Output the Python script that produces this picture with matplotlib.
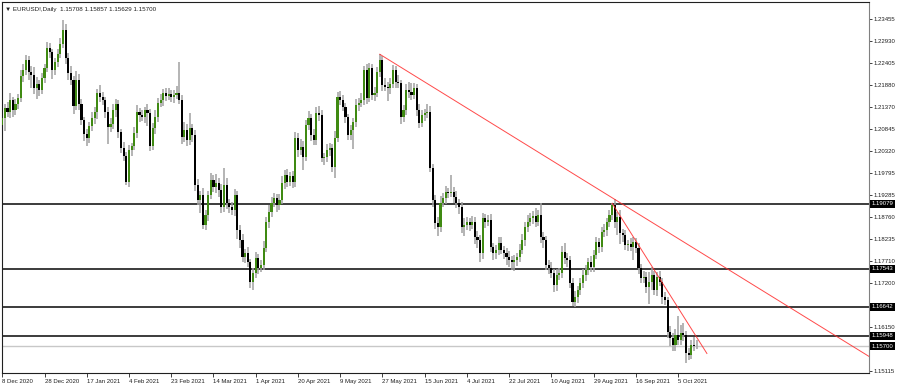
import matplotlib
matplotlib.use('Agg')
import matplotlib.pyplot as plt
import numpy as np

plt.rcParams['font.family'] = ['Liberation Sans', 'DejaVu Sans']

# --- data ---------------------------------------------------------------
symbol = 'EURUSD!,Daily'

# daily closes, one per bar (8 Dec 2020 .. 13 Oct 2021)
closes = [
    1.2110, 1.2134, 1.2125, 1.2153, 1.2129, 1.2144, 1.2158, 1.2210, 1.2224, 1.2248, 1.2219, 1.2212, 1.2181, 1.2191, 1.2177, 1.2205,
    1.2229, 1.2276, 1.2267, 1.2224, 1.2243, 1.2262, 1.2286, 1.2319, 1.2253, 1.2217, 1.2200, 1.2139, 1.2200, 1.2144, 1.2106, 1.2072,
    1.2063, 1.2091, 1.2110, 1.2125, 1.2170, 1.2160, 1.2153, 1.2125, 1.2089, 1.2096, 1.2129, 1.2144, 1.2077, 1.2039, 1.2020, 1.1959,
    1.2035, 1.2044, 1.2075, 1.2125, 1.2117, 1.2113, 1.2129, 1.2122, 1.2044, 1.2087, 1.2113, 1.2146, 1.2153, 1.2170, 1.2163, 1.2168,
    1.2160, 1.2165, 1.2170, 1.2153, 1.2065, 1.2082, 1.2058, 1.2087, 1.2070, 1.1952, 1.1916, 1.1928, 1.1857, 1.1880, 1.1928, 1.1963,
    1.1947, 1.1956, 1.1940, 1.1899, 1.1952, 1.1909, 1.1899, 1.1892, 1.1928, 1.1845, 1.1821, 1.1781, 1.1790, 1.1769, 1.1722, 1.1743,
    1.1779, 1.1755, 1.1762, 1.1802, 1.1864, 1.1888, 1.1909, 1.1921, 1.1904, 1.1916, 1.1956, 1.1975, 1.1959, 1.1973, 1.1959, 1.2063,
    1.2035, 1.2042, 1.2018, 1.2094, 1.2110, 1.2070, 1.2058, 1.2122, 1.2117, 1.2016, 1.2018, 1.2035, 1.2039, 1.1994, 1.2063, 1.2160,
    1.2153, 1.2137, 1.2113, 1.2070, 1.2082, 1.2101, 1.2141, 1.2146, 1.2153, 1.2224, 1.2158, 1.2229, 1.2165, 1.2170, 1.2219, 1.2248,
    1.2189, 1.2184, 1.2181, 1.2191, 1.2224, 1.2196, 1.2193, 1.2113, 1.2129, 1.2177, 1.2172, 1.2165, 1.2181, 1.2129, 1.2099, 1.2117,
    1.2122, 1.2125, 1.1992, 1.1916, 1.1862, 1.1852, 1.1909, 1.1921, 1.1935, 1.1933, 1.1935, 1.1923, 1.1909, 1.1899, 1.1852, 1.1857,
    1.1864, 1.1857, 1.1864, 1.1828, 1.1821, 1.1790, 1.1873, 1.1864, 1.1869, 1.1805, 1.1790, 1.1798, 1.1814, 1.1798, 1.1790, 1.1781,
    1.1774, 1.1769, 1.1774, 1.1781, 1.1798, 1.1821, 1.1852, 1.1864, 1.1873, 1.1878, 1.1864, 1.1880, 1.1828, 1.1821, 1.1762, 1.1755,
    1.1743, 1.1715, 1.1738, 1.1743, 1.1793, 1.1779, 1.1774, 1.1719, 1.1674, 1.1686, 1.1703, 1.1719, 1.1738, 1.1750, 1.1769, 1.1757,
    1.1786, 1.1816, 1.1805, 1.1840, 1.1845, 1.1864, 1.1880, 1.1904, 1.1864, 1.1876, 1.1838, 1.1833, 1.1809, 1.1812, 1.1805, 1.1816,
    1.1802, 1.1755, 1.1731, 1.1734, 1.1710, 1.1722, 1.1738, 1.1703, 1.1734, 1.1722, 1.1686, 1.1679, 1.1603, 1.1589, 1.1572, 1.1596,
    1.1584, 1.1601, 1.1596, 1.1553, 1.1549, 1.1572, 1.15708, 1.15700,
]
first_open = 1.2095

# wick lengths above / below the body, in pips
upper_pips = [
    12, 10, 14, 18, 8, 12, 10, 14, 16, 12, 10, 15, 20, 18, 9, 12,
    10, 14, 12, 8, 10, 12, 15, 24, 14, 12, 18, 10, 22, 15, 12, 8,
    14, 10, 16, 12, 10, 18, 12, 8, 12, 14, 16, 12, 10, 8, 14, 10,
    12, 8, 14, 16, 10, 12, 9, 14, 10, 12, 18, 12, 15, 10, 12, 14,
    10, 12, 16, 73, 12, 20, 14, 35, 10, 12, 14, 10, 16, 12, 10, 18,
    14, 22, 12, 14, 40, 16, 10, 12, 14, 10, 12, 14, 10, 15, 8, 12,
    14, 10, 12, 18, 12, 16, 14, 12, 10, 15, 18, 12, 14, 10, 12, 14,
    12, 20, 14, 12, 18, 10, 16, 14, 18, 12, 10, 14, 12, 10, 16, 12,
    16, 12, 10, 8, 12, 10, 14, 12, 18, 10, 14, 12, 10, 14, 12, 14,
    10, 16, 12, 14, 12, 10, 18, 8, 12, 14, 20, 22, 12, 10, 14, 12,
    10, 18, 14, 10, 12, 14, 16, 12, 14, 10, 40, 12, 14, 10, 12, 16,
    12, 10, 14, 12, 16, 12, 14, 10, 12, 14, 10, 12, 16, 14, 10, 12,
    14, 10, 12, 10, 14, 16, 12, 18, 14, 12, 20, 14, 30, 12, 10, 12,
    14, 10, 16, 12, 14, 22, 12, 10, 12, 14, 10, 12, 14, 12, 10, 14,
    12, 14, 10, 12, 14, 10, 12, 5, 14, 12, 16, 10, 12, 10, 14, 12,
    10, 12, 10, 14, 12, 25, 20, 10, 12, 14, 10, 12, 8, 14, 12, 16,
    45, 20, 25, 10, 12, 14, 20, 14.9,
]
lower_pips = [
    10, 30, 12, 14, 16, 10, 12, 8, 14, 10, 18, 30, 12, 25, 14, 10,
    12, 8, 14, 20, 10, 12, 8, 10, 14, 16, 12, 18, 10, 14, 12, 16,
    18, 12, 10, 14, 16, 10, 12, 14, 40, 12, 10, 16, 14, 12, 10, 7,
    12, 14, 10, 12, 16, 10, 14, 30, 12, 10, 14, 12, 10, 14, 12, 10,
    12, 14, 10, 8, 16, 12, 14, 10, 16, 14, 12, 30, 10, 12, 14, 10,
    12, 14, 16, 12, 10, 14, 12, 10, 14, 20, 18, 12, 14, 10, 14, 19,
    12, 14, 10, 12, 8, 14, 12, 10, 16, 12, 10, 14, 12, 10, 14, 12,
    16, 12, 30, 10, 12, 14, 10, 12, 14, 10, 16, 12, 14, 12, 25, 10,
    12, 10, 14, 12, 10, 45, 12, 14, 10, 12, 14, 10, 12, 14, 10, 12,
    14, 10, 30, 12, 10, 14, 12, 16, 12, 10, 14, 12, 10, 14, 12, 10,
    14, 12, 10, 16, 14, 20, 12, 10, 14, 12, 10, 14, 12, 16, 14, 20,
    12, 14, 10, 16, 18, 20, 12, 14, 10, 12, 16, 14, 12, 10, 14, 18,
    16, 18, 20, 14, 12, 10, 14, 12, 10, 14, 12, 10, 14, 18, 12, 14,
    12, 16, 14, 10, 12, 14, 16, 12, 9, 10, 14, 12, 10, 14, 12, 10,
    12, 10, 14, 12, 10, 14, 12, 10, 14, 30, 25, 16, 12, 14, 10, 30,
    12, 14, 10, 12, 14, 40, 18, 12, 14, 10, 16, 12, 14, 18, 12, 14,
    12, 10, 14, 23, 12, 10, 12, 7.1,
]

date_ticks = [0, 16, 32, 48, 64, 80, 96, 112, 128, 144, 160, 176, 192, 208, 224, 240, 256]
date_labels = ['8 Dec 2020', '28 Dec 2020', '17 Jan 2021', '4 Feb 2021', '23 Feb 2021',
               '14 Mar 2021', '1 Apr 2021', '20 Apr 2021', '9 May 2021', '27 May 2021',
               '15 Jun 2021', '4 Jul 2021', '22 Jul 2021', '10 Aug 2021', '29 Aug 2021',
               '16 Sep 2021', '5 Oct 2021']

price_ticks = [1.23455, 1.22930, 1.22405, 1.21880, 1.21370, 1.20845, 1.20320, 1.19795,
               1.19285, 1.18760, 1.18235, 1.17710, 1.17200, 1.16150, 1.15115]

levels = [1.19079, 1.17543, 1.16642, 1.15948]
bid = 1.15700

# trend lines: (bar, price) anchors
trend1 = [(143, 1.2262), (328.3, 1.1546)]
trend2 = [(231, 1.1909), (266.9, 1.1553)]

# --- build candles --------------------------------------------------------
c = np.array(closes)
o = np.concatenate([[first_open], c[:-1]])
hi = np.maximum(o, c) + np.array(upper_pips) / 10000
lo = np.minimum(o, c) - np.array(lower_pips) / 10000
x = np.arange(len(c))

fig = plt.figure(figsize=(9, 3.86), dpi=100)
ax = fig.add_axes([2 / 900, 13.5 / 386, 867 / 900, 371 / 386])
ax.set_xlim(-0.1, 328.3)
ax.set_ylim(1.15079, 1.23870)

up = c >= o
wick_col = '#a0a0a0'
ax.vlines(x, lo, hi, color=wick_col, linewidth=1.1, zorder=2)
body_h = np.maximum(np.abs(c - o), 0.00004)
body_b = np.minimum(o, c)
ax.bar(x[up], body_h[up], bottom=body_b[up], width=0.8, color='#3f8a12',
       edgecolor='none', zorder=3)
ax.bar(x[~up], body_h[~up], bottom=body_b[~up], width=0.8, color='black',
       edgecolor='none', zorder=3)

# horizontal levels
for lv in levels:
    ax.axhline(lv, color='#1a1a1a', linewidth=1.2, zorder=1)
ax.axhline(bid, color='#c8c8c8', linewidth=1.0, zorder=1)

# trend lines
for tl in (trend1, trend2):
    ax.plot([tl[0][0], tl[1][0]], [tl[0][1], tl[1][1]], color='#ff2a2a',
            linewidth=0.7, alpha=0.85, zorder=4)

# axes styling
for s in ax.spines.values():
    s.set_color('#202020')
    s.set_linewidth(0.8)
ax.spines['right'].set_color('#808080')

ax.yaxis.tick_right()
ax.set_yticks(price_ticks)
ax.set_yticklabels(['%.5f' % p for p in price_ticks])
ax.tick_params(axis='y', direction='out', length=2, width=0.6, pad=1.5,
               labelsize=4.3, colors='#202020')
ax.set_xticks(date_ticks)
ax.set_xticklabels(date_labels, ha='left')
ax.tick_params(axis='x', direction='out', length=3, width=0.6, pad=1.5,
               labelsize=4.3, colors='#202020')

# price labels on the right scale
for lv in levels + [bid]:
    ax.text(1.003, lv, '%.5f' % lv, transform=ax.get_yaxis_transform(),
            ha='left', va='center', fontsize=4.3, color='white', zorder=6,
            bbox=dict(boxstyle='square,pad=0.25', facecolor='black', edgecolor='none'),
            clip_on=False)

title = '\u25bc %s  %.5f %.5f %.5f %.5f' % (symbol, o[-1], hi[-1], lo[-1], c[-1])
fig.text(5 / 900, 1 - 9 / 386, title, fontsize=4.5, color='#202020', va='center')

fig.savefig('out.png', dpi=100)
